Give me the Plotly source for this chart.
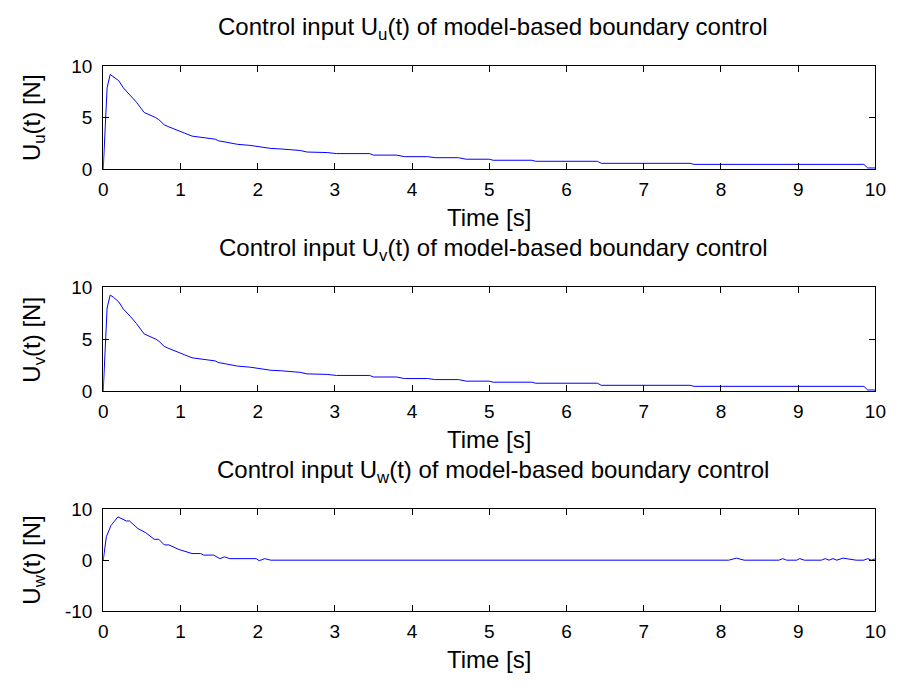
import plotly.graph_objects as go

# ---- data ----
t_u = [0, 0.05, 0.09, 0.13, 0.2, 0.26, 0.35, 0.43, 0.53, 0.6, 0.68, 0.72, 0.79, 0.85,
       0.96, 1.05, 1.15, 1.25, 1.36, 1.45, 1.49, 1.6, 1.74, 1.9, 2.0, 2.17, 2.3, 2.43,
       2.55, 2.64, 2.9, 3.02, 3.45, 3.5, 3.8, 3.9, 4.2, 4.3, 4.6, 4.7, 5.0, 5.05, 5.55,
       5.6, 6.4, 6.45, 7.6, 7.65, 9.85, 9.9, 10.0]
u_u = [0, 7.9, 9.2, 9.0, 8.6, 7.9, 7.2, 6.5, 5.5, 5.3, 5.0, 4.8, 4.3, 4.1,
       3.8, 3.5, 3.2, 3.1, 2.95, 2.9, 2.75, 2.6, 2.4, 2.3, 2.2, 2.0, 1.95, 1.85,
       1.8, 1.65, 1.6, 1.5, 1.5, 1.35, 1.35, 1.2, 1.2, 1.1, 1.1, 0.95, 0.95, 0.85, 0.85,
       0.75, 0.75, 0.55, 0.55, 0.45, 0.45, 0.1, 0.1]

t_v = [0, 0.05, 0.09, 0.13, 0.2, 0.26, 0.35, 0.43, 0.53, 0.6, 0.68, 0.72, 0.79, 0.85,
       0.96, 1.05, 1.15, 1.25, 1.36, 1.45, 1.49, 1.6, 1.74, 1.9, 2.0, 2.17, 2.3, 2.43,
       2.55, 2.64, 2.9, 3.02, 3.45, 3.5, 3.8, 3.9, 4.2, 4.3, 4.6, 4.7, 5.0, 5.05, 5.55,
       5.6, 6.4, 6.45, 7.6, 7.65, 9.85, 9.9, 10.0]
u_v = [0, 8.0, 9.25, 9.05, 8.6, 7.9, 7.2, 6.5, 5.5, 5.3, 5.0, 4.8, 4.3, 4.1,
       3.8, 3.5, 3.2, 3.1, 2.95, 2.9, 2.75, 2.6, 2.4, 2.3, 2.2, 2.0, 1.95, 1.85,
       1.8, 1.65, 1.6, 1.5, 1.5, 1.35, 1.35, 1.2, 1.2, 1.1, 1.1, 0.95, 0.95, 0.85, 0.85,
       0.75, 0.75, 0.55, 0.55, 0.45, 0.45, 0.1, 0.1]

t_w = [0, 0.04, 0.1, 0.19, 0.3, 0.34, 0.45, 0.55, 0.66, 0.72, 0.79, 0.85, 0.98, 1.06,
       1.15, 1.26, 1.3, 1.43, 1.51, 1.57, 1.64, 1.98, 2.02, 2.09, 2.17, 8.1, 8.2, 8.3,
       8.75, 8.8, 8.85, 8.98, 9.02, 9.08, 9.3, 9.35, 9.4, 9.45, 9.5, 9.58, 9.65, 9.75,
       9.85, 9.9, 9.95, 10.0]
u_w = [0, 4.6, 6.8, 8.5, 7.7, 7.7, 6.2, 5.4, 4.1, 4.1, 3.0, 3.0, 2.1, 1.75,
       1.3, 1.3, 1.0, 1.0, 0.3, 0.65, 0.3, 0.3, -0.1, 0.3, 0.0, 0.0, 0.4, 0.0,
       0.0, 0.3, 0.0, 0.0, 0.3, 0.0, 0.0, 0.3, 0.0, 0.3, 0.0, 0.4, 0.2, 0.0,
       0.0, 0.3, 0.0, 0.3]

titles = ["Control input U<sub>u</sub>(t) of model-based boundary control",
          "Control input U<sub>v</sub>(t) of model-based boundary control",
          "Control input U<sub>w</sub>(t) of model-based boundary control"]
ylabels = ["U<sub>u</sub>(t) [N]", "U<sub>v</sub>(t) [N]", "U<sub>w</sub>(t) [N]"]
xlabel = "Time [s]"
x_ticks = list(range(0, 11))
x_ticktext = [str(v) for v in x_ticks]
y_ticks = [[0, 5, 10], [0, 5, 10], [-10, 0, 10]]
y_ticktext = [["0", "5", "10"], ["0", "5", "10"], ["-10", "0", "10"]]
y_ranges = [[0, 10], [0, 10], [-10, 10]]

# ---- layout geometry (pixels) ----
W, H = 910, 688
x_left, x_right = 100, 886
panels_px = [(58, 164), (286, 393), (515, 620)]
FONT = "Liberation Sans, Arial, Helvetica, sans-serif"
FS_TICK = 19
FS_TEXT = 24

fig = go.Figure()
series = [(t_u, u_u), (t_v, u_v), (t_w, u_w)]
annotations = []
for i, ((tx, ty), (top, bot)) in enumerate(zip(series, panels_px)):
    n = "" if i == 0 else str(i + 1)
    fig.add_trace(go.Scatter(x=tx, y=ty, mode="lines",
                             line=dict(color="#0000ff", width=1),
                             xaxis="x" + n, yaxis="y" + n, showlegend=False,
                             hoverinfo="skip"))
    axis_common = dict(showline=True, linecolor="black", linewidth=1, mirror="ticks",
                       ticks="inside", ticklen=6, tickcolor="black", showgrid=False,
                       zeroline=False,
                       tickfont=dict(family=FONT, size=FS_TICK, color="black"))
    fig.update_layout(**{
        "xaxis" + n: dict(domain=[x_left / W, x_right / W], range=[0, 10],
                          tickvals=x_ticks, ticktext=x_ticktext, anchor="y" + n,
                          ticklabelstandoff=3, **axis_common),
        "yaxis" + n: dict(domain=[1 - bot / H, 1 - top / H], range=y_ranges[i],
                          tickvals=y_ticks[i], ticktext=y_ticktext[i], anchor="x" + n,
                          ticklabelstandoff=6, **axis_common),
    })
    annotations.append(dict(text=titles[i], x=497 / W,
                            y=1 - (top - 39) / H, xref="paper", yref="paper",
                            showarrow=False, xanchor="center", yanchor="middle",
                            font=dict(family=FONT, size=FS_TEXT, color="black")))
    annotations.append(dict(text=xlabel, x=(x_left + x_right) / 2 / W,
                            y=1 - (bot + 50) / H, xref="paper", yref="paper",
                            showarrow=False, xanchor="center", yanchor="middle",
                            font=dict(family=FONT, size=FS_TEXT, color="black")))
    annotations.append(dict(text=ylabels[i], x=29 / W,
                            y=1 - (top + bot) / 2 / H, xref="paper", yref="paper",
                            showarrow=False, xanchor="center", yanchor="middle",
                            textangle=-90,
                            font=dict(family=FONT, size=FS_TEXT, color="black")))

fig.update_layout(width=W, height=H, margin=dict(l=0, r=0, t=0, b=0),
                  paper_bgcolor="white", plot_bgcolor="white",
                  annotations=annotations)
fig.write_html("out.html")
